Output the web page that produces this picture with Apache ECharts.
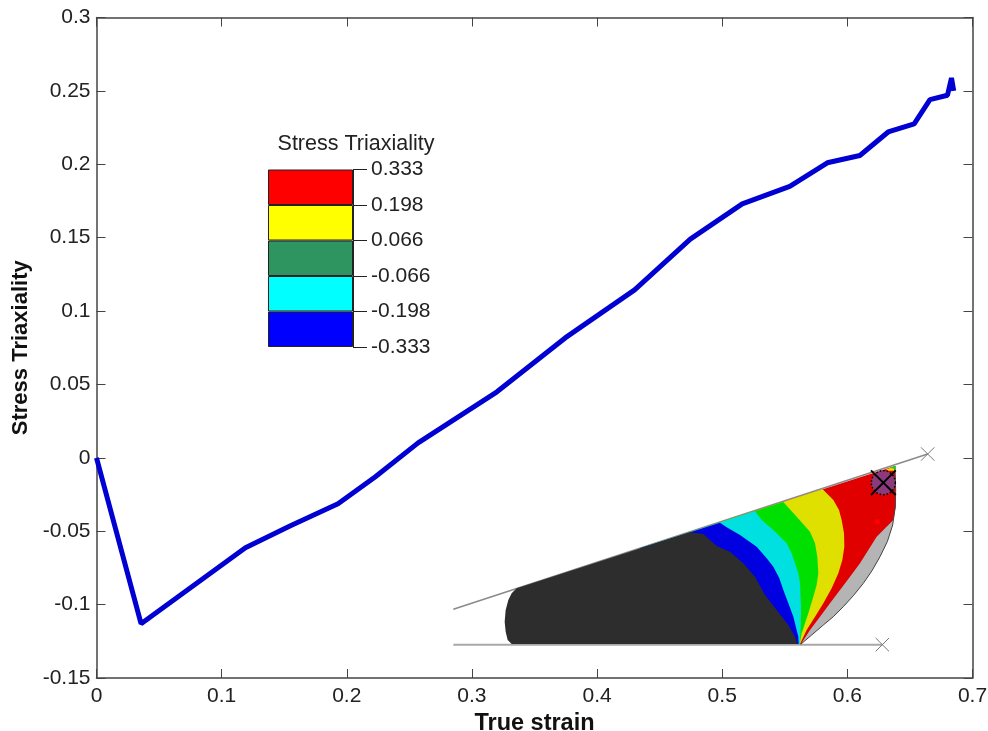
<!DOCTYPE html>
<html>
<head>
<meta charset="utf-8">
<title>Stress Triaxiality</title>
<script src="https://cdn.jsdelivr.net/npm/echarts@6/dist/echarts.min.js"></script>
<style>
  html, body { margin: 0; padding: 0; background: #fff; }
  #main { width: 988px; height: 731px; }
</style>
</head>
<body>
<div id="main"></div>
<script>
// curve, [true strain, stress triaxiality]
var curve = [
  [0, 0], [0.0356, -0.113], [0.119, -0.0613], [0.155, -0.0463], [0.193, -0.0313],
  [0.2226, -0.013], [0.257, 0.0102], [0.32, 0.045], [0.3745, 0.0817], [0.43, 0.1144],
  [0.4745, 0.149], [0.516, 0.173], [0.554, 0.185], [0.584, 0.201], [0.61, 0.206],
  [0.6326, 0.222], [0.6534, 0.2275], [0.666, 0.244], [0.68, 0.247], [0.6832, 0.2588],
  [0.685, 0.25]
]

// colour bar
var legendTicks = ['-0.333', '-0.198', '-0.066', '0.066', '0.198', '0.333']
var legendColors = ['#0000ff', '#00ffff', '#2e9560', '#ffff00', '#ff0000']

// inset contour plot, outlines read in the inset's own units
var topLine = [[40, 508], [1463, 42]]
var bottomLine = [[40, 614], [1327, 614]]
var wedgeArc = [[1365, 78], [1367, 150], [1366, 200], [1358, 255], [1342, 305], [1320, 350], [1296, 392], [1270, 430], [1240, 467], [1210, 500], [1180, 530], [1150, 555], [1115, 585], [1082, 613]]
var redEdge = [[1365, 78], [1367, 200], [1360, 240], [1310, 290], [1285, 330], [1260, 370], [1230, 410], [1200, 450], [1170, 490], [1140, 530], [1110, 570], [1083, 612]]
var yellowEdge = [[1148, 148], [1180, 180], [1197, 210], [1205, 240], [1212, 280], [1213, 320], [1207, 360], [1195, 400], [1175, 445], [1150, 490], [1125, 530], [1100, 570], [1080, 612]]
var greenEdge = [[1030, 186], [1070, 230], [1110, 275], [1125, 310], [1132, 350], [1135, 400], [1130, 435], [1120, 470], [1105, 520], [1085, 580], [1079, 612]]
var cyanEdge = [[945, 214], [965, 240], [1000, 270], [1040, 310], [1055, 340], [1065, 370], [1075, 400], [1080, 430], [1083, 500], [1082, 570], [1079, 612]]
var blueEdge = [[840, 248], [860, 262], [900, 285], [950, 320], [980, 355], [1000, 380], [1018, 415], [1030, 450], [1045, 490], [1060, 530], [1075, 590], [1076, 612]]
var blackEdge = [[750, 277], [790, 282], [830, 318], [870, 335], [910, 370], [945, 410], [975, 465], [1010, 510], [1045, 555], [1065, 590], [1072, 612]]
var blackBack = [[215, 612], [203, 600], [197, 575], [194, 545], [197, 510], [205, 480], [215, 460], [230, 445]]
var cornerYellow = [[1338, 88], [1365, 80], [1363, 92], [1345, 92]]
var cornerGreen = [[1352, 83], [1366, 77], [1366, 88]]
var marker = [1330, 128]
var redSpot = [1312, 245]

var myChart = echarts.init(document.getElementById('main'))

var fontName = '"Liberation Sans", Arial, sans-serif'

function insetSeries (render) {
  return {
    type: 'custom',
    xAxisIndex: 3,
    yAxisIndex: 3,
    silent: true,
    clip: false,
    data: [0],
    renderItem: render
  }
}

function toPx (api, points) {
  return points.map(function (p) {
    return api.coord(p)
  })
}

function polygon (points, color) {
  return insetSeries(function (params, api) {
    return {
      type: 'polygon',
      shape: { points: toPx(api, points) },
      style: { fill: color }
    }
  })
}

function polyline (points, color, width) {
  return insetSeries(function (params, api) {
    return {
      type: 'polyline',
      shape: { points: toPx(api, points) },
      style: { stroke: color, lineWidth: width, fill: null }
    }
  })
}

function circle (center, zoomRadius, color, stroke) {
  return insetSeries(function (params, api) {
    var c = api.coord(center)
    return {
      type: 'circle',
      shape: { cx: c[0], cy: c[1], r: zoomRadius / 3 },
      style: { fill: color, stroke: stroke || null, lineWidth: 1.5, lineDash: stroke ? [1.5, 2] : null }
    }
  })
}

function cross (center, size, color, width) {
  return [
    polyline([[center[0] - size, center[1] - size], [center[0] + size, center[1] + size]], color, width),
    polyline([[center[0] - size, center[1] + size], [center[0] + size, center[1] - size]], color, width)
  ]
}

// each band is painted over the previous one, from the right edge to the left
function band (edge, color) {
  return polygon([[600, 325]].concat(edge, [[600, 612]]), color)
}

var insetLayers = [
  polyline(topLine, '#8a8a8a', 1.5),
  polyline(bottomLine, '#a8a8a8', 2),
  polygon(wedgeArc, '#b4b4b4'),
  band(redEdge, '#e00000'),
  band(yellowEdge, '#e0e000'),
  band(greenEdge, '#00e000'),
  band(cyanEdge, '#00e0e0'),
  band(blueEdge, '#0000e0'),
  polygon(blackEdge.concat(blackBack), '#2d2d2d'),
  polyline(wedgeArc, '#444', 1),
  polygon(cornerYellow, '#e0e000'),
  polygon(cornerGreen, '#00e000'),
  circle(redSpot, 8, '#ff0000'),
  circle(marker, 36, '#8b3a7c', '#000')
].concat(
  cross(marker, 37, '#000', 2),
  cross(topLine[1], 20, '#777', 1),
  cross(bottomLine[1], 20, '#777', 1)
)

var legendSeries = legendColors.map(function (color) {
  return {
    type: 'bar',
    stack: 'bar',
    xAxisIndex: 2,
    yAxisIndex: 2,
    barWidth: '100%',
    silent: true,
    data: [1],
    itemStyle: { color: color, borderColor: '#222', borderWidth: 1 }
  }
})

var boxLine = { onZero: false, lineStyle: { color: '#444', width: 1.5 } }
var boxTick = { show: true, inside: true, length: 9, lineStyle: { color: '#444' } }

var option = {
  animation: false,
  backgroundColor: '#fff',
  textStyle: { fontFamily: fontName },
  title: {
    text: 'Stress Triaxiality',
    left: 351,
    top: 128,
    textAlign: 'center',
    textStyle: { fontFamily: fontName, fontSize: 21.5, fontWeight: 'normal', color: '#222' }
  },
  grid: [
    { left: 96.5, top: 17.5, width: 876, height: 660.5, outerBoundsMode: 'none' },
    { left: 268, top: 169.5, width: 85, height: 177.5, outerBoundsMode: 'none' },
    { left: 440, top: 440, width: 510, height: 220, outerBoundsMode: 'none' }
  ],
  xAxis: [
    {
      type: 'value',
      gridIndex: 0,
      min: 0,
      max: 0.7,
      interval: 0.1,
      name: 'True strain',
      nameLocation: 'middle',
      nameGap: 32,
      nameTextStyle: { fontFamily: fontName, fontSize: 23.5, fontWeight: 'bold', color: '#111' },
      splitLine: { show: false },
      axisLine: boxLine,
      axisTick: boxTick,
      axisLabel: { fontSize: 21, color: '#222', margin: 8 }
    },
    {
      type: 'value',
      gridIndex: 0,
      position: 'top',
      min: 0,
      max: 0.7,
      interval: 0.1,
      splitLine: { show: false },
      axisLine: boxLine,
      axisTick: boxTick,
      axisLabel: { show: false }
    },
    {
      type: 'category',
      gridIndex: 1,
      data: [''],
      axisLine: { show: false },
      axisTick: { show: false },
      axisLabel: { show: false }
    },
    { type: 'value', gridIndex: 2, min: 0, max: 1530, show: false }
  ],
  yAxis: [
    {
      type: 'value',
      gridIndex: 0,
      min: -0.15,
      max: 0.3,
      interval: 0.05,
      name: 'Stress Triaxiality',
      nameLocation: 'middle',
      nameGap: 63,
      nameTextStyle: { fontFamily: fontName, fontSize: 22, fontWeight: 'bold', color: '#111' },
      splitLine: { show: false },
      axisLine: boxLine,
      axisTick: boxTick,
      axisLabel: { fontSize: 21, color: '#222', margin: 6 }
    },
    {
      type: 'value',
      gridIndex: 0,
      position: 'right',
      min: -0.15,
      max: 0.3,
      interval: 0.05,
      splitLine: { show: false },
      axisLine: boxLine,
      axisTick: boxTick,
      axisLabel: { show: false }
    },
    {
      type: 'value',
      gridIndex: 1,
      position: 'right',
      min: 0,
      max: 5,
      interval: 1,
      splitLine: { show: false },
      axisLine: { show: true, onZero: false, lineStyle: { color: '#222' } },
      axisTick: { show: true, length: 14, lineStyle: { color: '#222' } },
      axisLabel: {
        show: true,
        fontSize: 21,
        color: '#222',
        margin: 18,
        formatter: function (value) {
          return legendTicks[value]
        }
      }
    },
    { type: 'value', gridIndex: 2, min: 0, max: 660, inverse: true, show: false }
  ],
  series: insetLayers.concat(legendSeries, [
    {
      type: 'line',
      xAxisIndex: 0,
      yAxisIndex: 0,
      data: curve,
      symbol: 'none',
      clip: false,
      lineStyle: { color: '#0000d2', width: 5, join: 'bevel' }
    }
  ])
}

myChart.setOption(option)

window.onresize = function () {
  myChart.resize()
}
</script>
</body>
</html>
